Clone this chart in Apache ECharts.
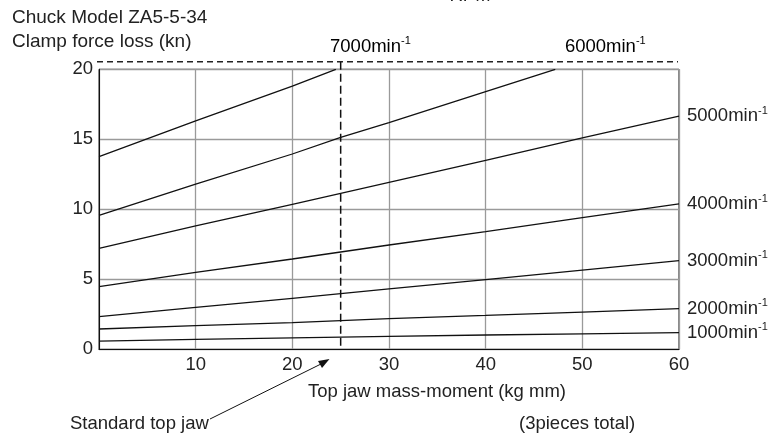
<!DOCTYPE html>
<html><head><meta charset="utf-8">
<script src="https://cdn.jsdelivr.net/npm/echarts@6/dist/echarts.min.js"></script>
<style>html,body{margin:0;padding:0;background:#fff}#c{width:771px;height:444px}</style>
</head><body><div id="c"></div>
<script>
const FONT = '"Liberation Sans", Arial, sans-serif';
const xTicks = [0, 10, 20, 30, 40, 50, 60];
const yTicks = [0, 5, 10, 15, 20];
const xs = [0, 10, 20, 30, 40, 50, 60];
const rpm1000 = [0.59, 0.71, 0.81, 0.93, 1.02, 1.10, 1.19];
const rpm2000 = [1.45, 1.69, 1.90, 2.19, 2.42, 2.66, 2.90];
const rpm3000 = [2.33, 3.00, 3.64, 4.31, 4.97, 5.65, 6.33];
const rpm4000 = [4.47, 5.50, 6.45, 7.45, 8.40, 9.40, 10.38];
const rpm5000 = [7.21, 8.81, 10.36, 11.93, 13.50, 15.10, 16.66];
const xs6000 = [0, 10, 20, 25, 30, 40, 47.2];
const rpm6000 = [9.57, 11.79, 13.95, 15.14, 16.19, 18.4, 20];
const xs7000 = [0, 10, 20, 24.5];
const rpm7000 = [13.76, 16.31, 18.8, 20];
const standardJaw = 25;
const titleLines = ['Chuck Model ZA5-5-34', 'Clamp force loss (kn)'];
const xName = 'Top jaw mass-moment (kg mm)';

const rich = {
  a: { fontSize: 18.5, fontFamily: FONT, color: '#222', lineHeight: 22 },
  s: { fontSize: 11, fontFamily: FONT, color: '#222', verticalAlign: 'top', lineHeight: 10 }
};
const pair = (xa, ya) => xa.map((x, i) => [x, ya[i]]);
function mk(name, xa, ya, end) {
  return {
    type: 'line', name, data: pair(xa, ya), showSymbol: false, silent: true,
    lineStyle: { color: '#111', width: 1.3 },
    endLabel: end ? { show: true, distance: 8, formatter: '{a|' + name + 'min}{s|-1}', rich } : { show: false }
  };
}

const chart = echarts.init(document.getElementById('c'), null, { renderer: 'canvas' });
chart.setOption({
  animation: false,
  textStyle: { fontFamily: FONT },
  grid: { left: 99, right: 92, top: 69.3, bottom: 94.7, show: true, borderColor: '#111', borderWidth: 1 },
  xAxis: {
    type: 'value', min: 0, max: 60, interval: 10,
    axisLine: { show: true, lineStyle: { color: '#111' } },
    axisTick: { show: false },
    axisLabel: { showMinLabel: false, color: '#222', fontSize: 18.5, margin: 6, fontFamily: FONT },
    splitLine: { show: true, lineStyle: { color: '#9a9a9a', width: 1.3 } }
  },
  yAxis: {
    type: 'value', min: 0, max: 20, interval: 5,
    axisLine: { show: true, lineStyle: { color: '#111' } },
    axisTick: { show: false },
    axisLabel: { color: '#222', fontSize: 18.5, margin: 6, fontFamily: FONT },
    splitLine: { show: true, lineStyle: { color: '#9a9a9a', width: 1.3 } }
  },
  series: [
    mk('1000', xs, rpm1000, true),
    mk('2000', xs, rpm2000, true),
    mk('3000', xs, rpm3000, true),
    mk('4000', xs, rpm4000, true),
    mk('5000', xs, rpm5000, true),
    mk('6000', xs6000, rpm6000, false),
    mk('7000', xs7000, rpm7000, false)
  ]
});

const P = (x, y) => chart.convertToPixel({ gridIndex: 0 }, [x, y]);
const p00 = P(0, 0), p6020 = P(60, 20), pJaw = P(standardJaw, 0);
const topY = p6020[1] - 7.6;
const txt = (x, y, text, extra, size) => ({
  type: 'text', x, y, silent: true,
  style: Object.assign({ text, font: (size || 18.5) + 'px ' + FONT, fill: '#222', verticalAlign: 'middle', align: 'left' }, extra || {})
});
const richTxt = (x, y, label) => ({
  type: 'text', x, y, silent: true,
  style: { text: '{a|' + label + 'min}{s|-1}', rich, verticalAlign: 'middle', align: 'left' }
});
chart.setOption({
  graphic: [
    txt(12, 18, titleLines[0], null, 19),
    txt(12, 42, titleLines[1], null, 19),
    txt(470, 5, 'RPM', { align: 'center', verticalAlign: 'bottom' }),
    richTxt(P(23.9, 0)[0], topY - 15, '7000'),
    richTxt(P(48.2, 0)[0], topY - 15, '6000'),
    { type: 'line', silent: true, shape: { x1: p00[0] - 2, y1: topY, x2: p6020[0] - 1, y2: topY },
      style: { stroke: '#222', lineWidth: 1.5, lineDash: [6, 4] } },
    { type: 'line', silent: true, shape: { x1: pJaw[0], y1: topY, x2: pJaw[0], y2: p00[1] },
      style: { stroke: '#111', lineWidth: 1.5, lineDash: [8, 4] } },
    txt(308, 392, xName),
    txt(70, 424, 'Standard top jaw'),
    txt(519, 424, '(3pieces total)'),
    { type: 'line', silent: true, shape: { x1: 210, y1: 419, x2: 325, y2: 362 },
      style: { stroke: '#111', lineWidth: 1 } },
    { type: 'polygon', silent: true, shape: { points: [[329.5, 359], [318, 361], [322, 368]] },
      style: { fill: '#111' } }
  ]
});
</script></body></html>
